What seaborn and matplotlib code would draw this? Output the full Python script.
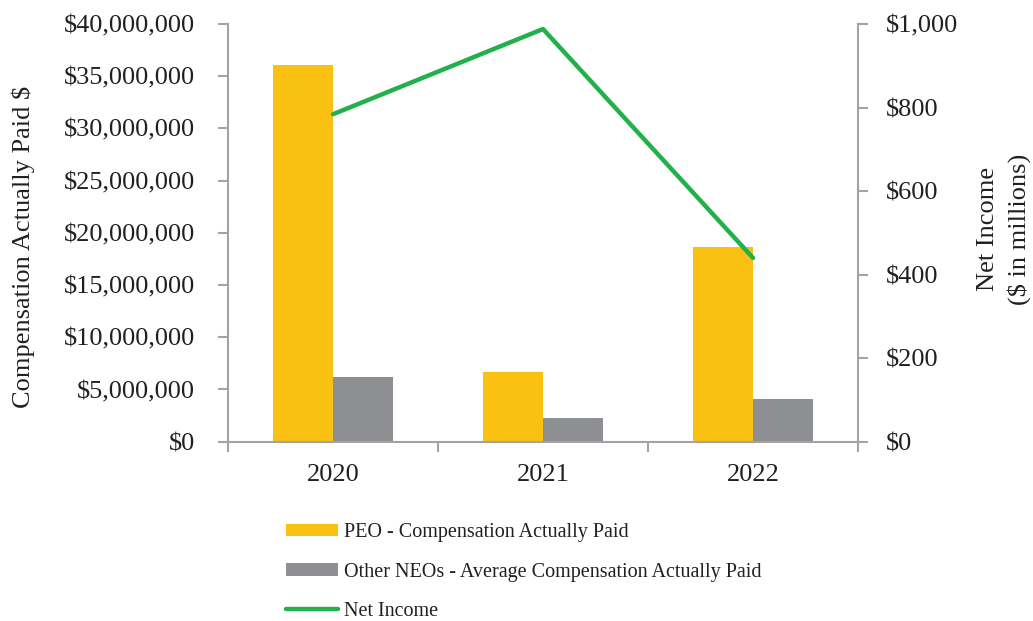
import matplotlib
matplotlib.use("Agg")
import matplotlib.pyplot as plt
import seaborn as sns
import numpy as np
import pandas as pd
from matplotlib.patches import Patch
from matplotlib.lines import Line2D

years = ["2020", "2021", "2022"]
peo_cap = [36.1e6, 6.65e6, 18.6e6]
neo_cap = [6.2e6, 2.25e6, 4.1e6]
net_income = [784, 988, 440]
series_names = ["PEO - Compensation Actually Paid",
                "Other NEOs - Average Compensation Actually Paid"]
line_name = "Net Income"
left_ticks = [0, 5e6, 10e6, 15e6, 20e6, 25e6, 30e6, 35e6, 40e6]
right_ticks = [0, 200, 400, 600, 800, 1000]

GOLD = "#FAC012"
GRAY = "#8E8F92"
GREEN = "#22B04B"
AXC = "#A3A3A3"
TXT = "#231F20"

sns.set_theme(style="white")
plt.rcParams["font.family"] = ["Liberation Serif", "DejaVu Serif"]

df = pd.DataFrame({
    "Year": years * 2,
    "Value": peo_cap + neo_cap,
    "Series": [series_names[0]] * len(years) + [series_names[1]] * len(years),
})

fig = plt.figure(figsize=(10.33, 6.21), dpi=100)
ax = fig.add_axes([228 / 1033, 1 - 441.7 / 621, 630 / 1033, 417.7 / 621])

sns.barplot(data=df, x="Year", y="Value", hue="Series", order=years,
            hue_order=series_names, palette=[GOLD, GRAY], saturation=1,
            width=0.57, gap=0, legend=False, linewidth=0, edgecolor="none",
            ax=ax)

ax2 = ax.twinx()
xpos = np.arange(len(years))
sns.lineplot(x=xpos, y=net_income, ax=ax2, color=GREEN, linewidth=3.2,
             legend=False)

ax.set_xlim(-0.5, len(years) - 0.5)
ax.set_ylim(0, 40e6)
ax2.set_ylim(0, 1000)

# x axis: ticks at category boundaries, labels at centres
ax.set_xticks(np.arange(len(years) + 1) - 0.5)
ax.set_xticklabels([""] * (len(years) + 1))
ax.set_xticks(xpos, minor=True)
ax.set_xticklabels(years, minor=True)
ax.tick_params(axis="x", which="major", length=7, width=1.5, color=AXC,
               direction="out", bottom=True)
ax.tick_params(axis="x", which="minor", length=0, pad=16, labelsize=19,
               labelcolor=TXT)

ax.set_yticks(left_ticks)
ax.set_yticklabels(["${:,.0f}".format(v) for v in left_ticks])
ax.tick_params(axis="y", length=7, width=1.5, color=AXC, direction="out",
               left=True, pad=17, labelsize=19, labelcolor=TXT)

ax2.set_yticks(right_ticks)
ax2.set_yticklabels(["${:,.0f}".format(v) for v in right_ticks])
ax2.tick_params(axis="y", length=7, width=1.5, color=AXC, direction="out",
                right=True, pad=13, labelsize=19, labelcolor=TXT)

ax.set_xlabel("")
ax.set_ylabel("")
ax2.set_ylabel("")
ax2.set_xlabel("")

for a in (ax, ax2):
    for s in a.spines.values():
        s.set_visible(False)
ax.spines["left"].set_visible(True)
ax.spines["bottom"].set_visible(True)
ax2.spines["right"].set_visible(True)
for s in (ax.spines["left"], ax.spines["bottom"], ax2.spines["right"]):
    s.set_color(AXC)
    s.set_linewidth(1.5)
ax.grid(False)
ax2.grid(False)

fig.text(23 / 1033, 1 - 247 / 621, "Compensation Actually Paid $",
         rotation=90, ha="center", va="center", fontsize=19, color=TXT)
fig.text(1004 / 1033, 1 - 229 / 621, "Net Income\n($ in millions)",
         rotation=90, ha="center", va="center", fontsize=19, color=TXT,
         multialignment="center", linespacing=1.42)

handles = [Patch(facecolor=GOLD, edgecolor="none", label=series_names[0]),
           Patch(facecolor=GRAY, edgecolor="none", label=series_names[1]),
           Line2D([0], [0], color=GREEN, linewidth=3.2, label=line_name)]
fig.legend(handles=handles, loc="upper left",
           bbox_to_anchor=(268 / 1033, 1 - 505 / 621), frameon=False,
           fontsize=14.5, labelspacing=1.02, handlelength=2.6,
           handleheight=0.6, handletextpad=0.25, labelcolor=TXT)

fig.savefig("out.png", dpi=100)
